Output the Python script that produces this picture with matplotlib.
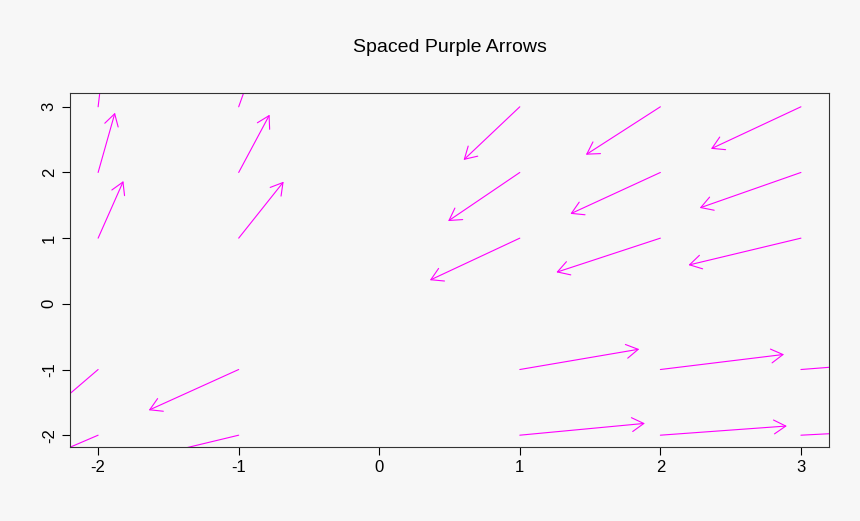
import matplotlib
matplotlib.use("Agg")
import matplotlib.pyplot as plt
from matplotlib.patches import FancyArrowPatch

plt.rcParams['font.family'] = ['Liberation Sans', 'DejaVu Sans']
plt.rcParams['axes.unicode_minus'] = False

x0 = [-2, -2, -2, -1, -1, -1, 1, 1, 1, 2, 2, 2, 3, 3, 3, 1, 2, 3, 1, 2, 3, -1, -2, -1, -2]
y0 = [1, 2, 3, 1, 2, 3, 1, 2, 3, 1, 2, 3, 1, 2, 3, -1, -1, -1, -2, -2, -2, -1, -1, -2, -2]
x1 = [-1.82, -1.88, -1.95, -0.68, -0.78, -0.85, 0.36, 0.49, 0.60, 1.26, 1.36, 1.47, 2.20, 2.28, 2.36,
      1.85, 2.88, 3.9, 1.89, 2.90, 3.9, -1.64, -2.6, -1.7, -2.6]
y1 = [1.87, 2.91, 3.9, 1.86, 2.88, 3.9, 0.36, 1.26, 2.19, 0.48, 1.37, 2.27, 0.59, 1.46, 2.36,
      -0.69, -0.77, -0.85, -1.82, -1.86, -1.9, -1.62, -2.1, -2.36, -2.55]

fig = plt.figure(figsize=(8.6, 5.21), dpi=100, facecolor='#f7f7f7')
ax = fig.add_axes([0.0814, 0.142, 0.8826, 0.6795])
ax.set_facecolor('#f7f7f7')
ax.set_xlim(-2.2, 3.2)
ax.set_ylim(-2.18, 3.21)
for a, b, c, d in zip(x0, y0, x1, y1):
    p = FancyArrowPatch((a, b), (c, d), arrowstyle='->,head_length=0.85,head_width=0.5',
                        mutation_scale=10, shrinkA=0, shrinkB=0, color='#ff00ff', lw=0.8)
    ax.add_patch(p)
ax.set_xticks([-2, -1, 0, 1, 2, 3])
ax.set_yticks([-2, -1, 0, 1, 2, 3])
ax.tick_params(labelsize=12, length=6)
for lab in ax.get_yticklabels():
    lab.set_rotation(90)
    lab.set_va('center')
for s in ax.spines.values():
    s.set_linewidth(0.8)
    s.set_color('#333333')
fig.text(0.523, 0.908, 'Spaced Purple Arrows', ha='center', va='center', fontsize=14)
fig.savefig('out.png', dpi=100, facecolor='#f7f7f7')
